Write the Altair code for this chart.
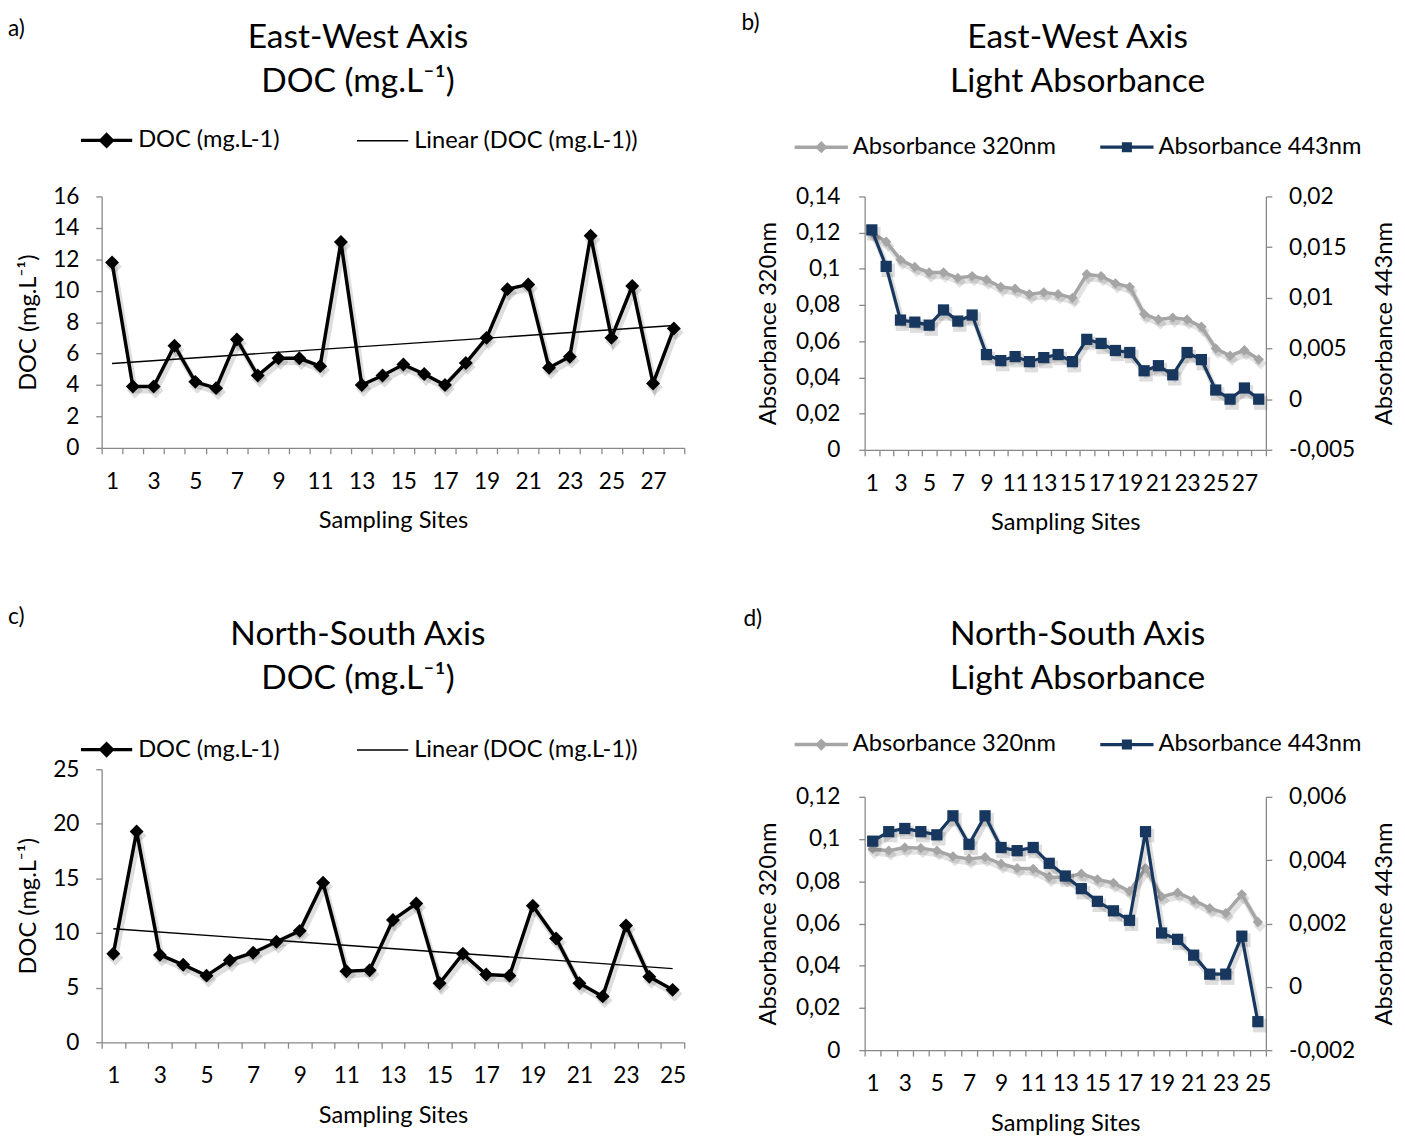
import altair as alt
import pandas as pd

# ---------------- data ----------------
sites_ew = list(range(1, 29))
doc_ew = [11.8, 3.9, 3.9, 6.5, 4.2, 3.8, 6.9, 4.6, 5.7, 5.7, 5.2, 13.1, 4.0, 4.6,
          5.3, 4.7, 4.0, 5.4, 7.0, 10.1, 10.4, 5.1, 5.8, 13.5, 7.0, 10.3, 4.1, 7.6]
abs320_ew = [0.120, 0.115, 0.105, 0.101, 0.098, 0.098, 0.095, 0.096, 0.094, 0.090,
             0.089, 0.086, 0.087, 0.086, 0.084, 0.097, 0.096, 0.092, 0.090, 0.075,
             0.072, 0.073, 0.072, 0.068, 0.056, 0.052, 0.055, 0.050]
abs443_ew = [0.0167, 0.0131, 0.0078, 0.0076, 0.0073, 0.0088, 0.0077, 0.0083, 0.0044,
             0.0038, 0.0042, 0.0037, 0.0041, 0.0044, 0.0037, 0.0059, 0.0055, 0.0048,
             0.0046, 0.0028, 0.0033, 0.0024, 0.0046, 0.0039, 0.0009, 0.0000, 0.0011,
             0.0000]

sites_ns = list(range(1, 26))
doc_ns = [8.1, 19.3, 8.0, 7.1, 6.1, 7.5, 8.2, 9.2, 10.2, 14.6, 6.5, 6.6, 11.2, 12.7,
          5.4, 8.1, 6.2, 6.1, 12.5, 9.5, 5.4, 4.2, 10.7, 6.0, 4.8]
abs320_ns = [0.0953, 0.0945, 0.0960, 0.0957, 0.0945, 0.0918, 0.0906, 0.0914, 0.0883,
             0.0862, 0.0859, 0.0820, 0.0817, 0.0836, 0.0809, 0.0792, 0.0753, 0.0862,
             0.0727, 0.0746, 0.0711, 0.0672, 0.0649, 0.0738, 0.0607]
abs443_ns = [0.0046, 0.0049, 0.0050, 0.0049, 0.0048, 0.0054, 0.0045, 0.0054, 0.0044,
             0.0043, 0.0044, 0.0039, 0.0035, 0.0031, 0.0027, 0.0024, 0.0021, 0.0049,
             0.0017, 0.0015, 0.0010, 0.0004, 0.0004, 0.0016, -0.0011]

panel_letters = ["a)", "b)", "c)", "d)"]
title_a = ["East-West Axis", "DOC (mg.L⁻¹)"]
title_b = ["East-West Axis", "Light Absorbance"]
title_c = ["North-South Axis", "DOC (mg.L⁻¹)"]
title_d = ["North-South Axis", "Light Absorbance"]

DOC_NAME = "DOC (mg.L-1)"
LIN_NAME = "Linear (DOC (mg.L-1))"
A320 = "Absorbance 320nm"
A443 = "Absorbance 443nm"

FONT = "Lato"
GREY = "#A5A5A5"
NAVY = "#17375E"
AXIS_GREY = "#888888"
SHADOW = "#000000"

COMMA = "replace(toString(datum.value), '.', ',')"


def pick(name, a, b):
    return {"expr": f"datum.value === '{name}' ? {a} : {b}"}


def text_layer(txt, tx, ty, size, align):
    return alt.Chart(pd.DataFrame({"t": [txt]})).mark_text(
        align=align, baseline="middle", fontSize=size, font=FONT, color="black"
    ).encode(text="t:N", x=alt.value(tx), y=alt.value(ty))


def heading(letter, lx, ly, lines, cx, y1):
    return [text_layer(letter, lx, ly, 23, "left"),
            text_layer(lines[0], cx, y1, 34, "center"),
            text_layer(lines[1], cx, y1 + 45, 34, "center")]


def x_axis_enc(sites):
    return alt.X(
        "site:O",
        scale=alt.Scale(domain=sites, paddingInner=0, paddingOuter=0),
        axis=alt.Axis(
            title="Sampling Sites", tickBand="extent", labelAngle=0,
            labelOverlap=False, labelExpr="datum.value % 2 == 1 ? datum.label : ''",
            labelPadding=17, titlePadding=16,
        ),
    )


def doc_panel(df, sites, ymax, ystep, width, height, legend_y, head):
    X = x_axis_enc(sites)
    Y = alt.Y(
        "doc:Q",
        scale=alt.Scale(domain=[0, ymax], nice=False),
        axis=alt.Axis(values=list(range(0, ymax + 1, ystep)), title="DOC (mg.L⁻¹)",
                      labelPadding=17, titlePadding=12),
    )
    legend = alt.Legend(
        orient="none", legendX=-7, legendY=legend_y, direction="horizontal", title=None,
        symbolSize=100, labelFontSize=24, labelFont=FONT, labelColor="black",
        labelOffset=20, columnPadding=75, padding=0, labelLimit=500,
        symbolType=pick(DOC_NAME, "'M-5.2,0L5.2,0M0,-1.15L1.15,0L0,1.15L-1.15,0Z'",
                        "'M-5.2,0L5.2,0'"),
        symbolStrokeWidth=pick(DOC_NAME, "3.5", "1.3"),
        symbolFillColor="black", symbolStrokeColor="black",
    )
    color = alt.Color("series:N", scale=alt.Scale(domain=[DOC_NAME, LIN_NAME],
                                                   range=["black", "black"]), legend=legend)
    base = alt.Chart(df)
    shadow = base.mark_line(
        color=SHADOW, opacity=0.13, strokeWidth=6, xOffset=2, yOffset=4,
        point=alt.OverlayMarkDef(shape="diamond", filled=True, size=260, opacity=0.13,
                                 color=SHADOW, xOffset=2, yOffset=4),
    ).encode(x=X, y=Y)
    line = base.transform_calculate(series=f"'{DOC_NAME}'").mark_line(
        strokeWidth=3.5,
        point=alt.OverlayMarkDef(shape="diamond", filled=True, size=200, opacity=1),
    ).encode(x=X, y=Y, color=color)
    trend = base.transform_regression("site", "doc").transform_calculate(
        series=f"'{LIN_NAME}'"
    ).mark_line(strokeWidth=1.4).encode(x=X, y=Y, color=color)
    return alt.layer(shadow, line, trend, *head).properties(width=width, height=height)


def abs_panel(df, sites, lmax, lvals, rdom, rvals, width, height, legend_y, head):
    X = x_axis_enc(sites)
    legend = alt.Legend(
        orient="none", legendX=-56, legendY=legend_y, direction="horizontal", title=None,
        symbolSize=100, labelFontSize=24, labelFont=FONT, labelColor="black",
        labelOffset=20, columnPadding=37, padding=0, labelLimit=500,
        symbolType=pick(A320, "'M-5.4,0L5.4,0M0,-0.75L0.75,0L0,0.75L-0.75,0Z'",
                        "'M-5.4,0L5.4,0M-0.7,-0.7L0.7,-0.7L0.7,0.7L-0.7,0.7Z'"),
        symbolStrokeWidth=pick(A320, "3.5", "3.2"),
        symbolFillColor=pick(A320, f"'{GREY}'", f"'{NAVY}'"),
        symbolStrokeColor=pick(A320, f"'{GREY}'", f"'{NAVY}'"),
    )
    color = alt.Color("series:N", scale=alt.Scale(domain=[A320, A443], range=[GREY, NAVY]),
                      legend=legend)
    base = alt.Chart(df)
    Y320 = alt.Y("a320:Q", scale=alt.Scale(domain=[0, lmax], nice=False),
                 axis=alt.Axis(values=lvals, title=A320, labelExpr=COMMA,
                               labelPadding=19, titlePadding=15))
    Y443 = alt.Y("a443:Q", scale=alt.Scale(domain=rdom, nice=False),
                 axis=alt.Axis(values=rvals, title=A443, orient="right", labelExpr=COMMA,
                               labelPadding=17, titlePadding=42, titleAngle=270))
    shadow320 = base.mark_line(
        color=SHADOW, opacity=0.11, strokeWidth=6, xOffset=2, yOffset=4,
        point=alt.OverlayMarkDef(shape="diamond", filled=True, size=160, opacity=0.11,
                                 color=SHADOW, xOffset=2, yOffset=4),
    ).encode(x=X, y=Y320)
    grey = base.transform_calculate(series=f"'{A320}'").mark_line(
        strokeWidth=3.5,
        point=alt.OverlayMarkDef(shape="diamond", filled=True, size=110, opacity=1),
    ).encode(x=X, y=Y320, color=color)
    shadow443 = base.mark_line(
        color=SHADOW, opacity=0.13, strokeWidth=6, xOffset=2, yOffset=4,
        point=alt.OverlayMarkDef(shape="square", filled=True, size=190, opacity=0.13,
                                 color=SHADOW, xOffset=2, yOffset=4),
    ).encode(x=X, y=Y443)
    navy = base.transform_calculate(series=f"'{A443}'").mark_line(
        strokeWidth=3.2,
        point=alt.OverlayMarkDef(shape="square", filled=True, size=130, opacity=1),
    ).encode(x=X, y=Y443, color=color)
    left = alt.layer(shadow320, grey)
    right = alt.layer(shadow443, navy, *head)
    return alt.layer(left, right).resolve_scale(y="independent").properties(
        width=width, height=height)


df_ew = pd.DataFrame({"site": sites_ew, "doc": doc_ew, "a320": abs320_ew, "a443": abs443_ew})
df_ns = pd.DataFrame({"site": sites_ns, "doc": doc_ns, "a320": abs320_ns, "a443": abs443_ns})

pa = doc_panel(df_ew[["site", "doc"]], sites_ew, 16, 2, 591, 255, -69,
               heading(panel_letters[0], -95, -170, title_a, 260, -161))
pc = doc_panel(df_ns[["site", "doc"]], sites_ns, 25, 5, 591, 277, -32,
               heading(panel_letters[2], -95, -154, title_c, 260, -136))
pb = abs_panel(df_ew[["site", "a320", "a443"]], sites_ew, 0.14,
               [0, 0.02, 0.04, 0.06, 0.08, 0.1, 0.12, 0.14],
               [-0.005, 0.02], [-0.005, 0, 0.005, 0.01, 0.015, 0.02],
               407, 257, -62,
               heading(panel_letters[1], -125, -176, title_b, 216, -161))
pd_ = abs_panel(df_ns[["site", "a320", "a443"]], sites_ns, 0.12,
                [0, 0.02, 0.04, 0.06, 0.08, 0.1, 0.12],
                [-0.002, 0.006], [-0.002, 0, 0.002, 0.004, 0.006],
                407, 257, -65,
                heading(panel_letters[3], -123, -180, title_d, 216, -164))

col1 = alt.vconcat(pa, pc, spacing=75).resolve_scale(color="independent")
col2 = alt.vconcat(pb, pd_, spacing=75).resolve_scale(color="independent")

chart = alt.hconcat(col1, col2, spacing=54).resolve_scale(color="independent").properties(
    padding={"left": 0, "top": -4, "right": 0, "bottom": 0}
).configure_axis(
    domainColor=AXIS_GREY, tickColor=AXIS_GREY, labelColor="black", titleColor="black",
    labelFont=FONT, titleFont=FONT, labelFontSize=23, titleFontSize=24,
    titleFontWeight="normal", grid=False, tickSize=6, domainWidth=1.3, tickWidth=1.3,
).configure_view(stroke=None)

chart.save("out.html", embed_options={"renderer": "svg", "actions": False})
